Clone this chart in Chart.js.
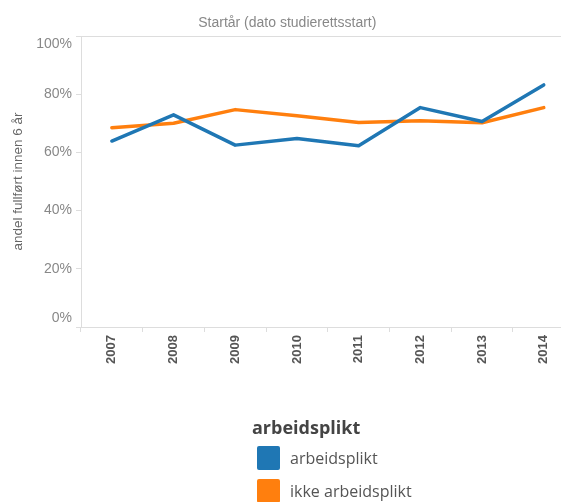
<!DOCTYPE html>
<html>
<head>
<meta charset="utf-8">
<script src="https://cdn.jsdelivr.net/npm/chart.js@4"></script>
<style>
  html, body { margin: 0; padding: 0; background: #fff; overflow: hidden; }
  #wrap { position: relative; width: 561px; height: 502px; overflow: hidden; }
  #myChart { position: absolute; left: 0; top: 0; }
  #legend { position: absolute; left: 0; top: 0; font-family: "Open Sans", sans-serif; }
  .lg-title { position: absolute; left: 252px; top: 415px; font-size: 18px; font-weight: bold; color: #444; white-space: nowrap; }
  .lg-row { position: absolute; left: 257px; height: 24px; white-space: nowrap; }
  .lg-box { position: absolute; left: 0; top: 0; width: 23px; height: 24px; border-radius: 2px; }
  .lg-text { position: absolute; left: 33px; top: 0px; line-height: 24px; font-size: 16px; color: #555; }
</style>
</head>
<body>
<div id="wrap">
  <canvas id="myChart" width="602" height="502"></canvas>
  <div id="legend"></div>
</div>
<script>
const years = ["2007", "2008", "2009", "2010", "2011", "2012", "2013", "2014"];
const yTicks = [0, 0.2, 0.4, 0.6, 0.8, 1];

// andel fullført innen 6 år
const arbeidsplikt = [0.639, 0.729, 0.625, 0.648, 0.623, 0.754, 0.706, 0.832];
const ikkeArbeidsplikt = [0.685, 0.700, 0.747, 0.726, 0.703, 0.709, 0.702, 0.754];

const seriesNames = ["arbeidsplikt", "ikke arbeidsplikt"];
const seriesColors = ["#1f77b4", "#ff7f0e"];

const data = {
  labels: years,
  datasets: [
    {
      label: seriesNames[0],
      data: arbeidsplikt,
      borderColor: seriesColors[0],
      backgroundColor: seriesColors[0],
    },
    {
      label: seriesNames[1],
      data: ikkeArbeidsplikt,
      borderColor: seriesColors[1],
      backgroundColor: seriesColors[1],
    },
  ],
};

const axisGray = "#dddddd";

const config = {
  type: "line",
  data: data,
  options: {
    responsive: false,
    animation: false,
    devicePixelRatio: 1,
    layout: { padding: { left: 0, right: 27.4, top: 0, bottom: 0 } },
    elements: {
      line: { borderWidth: 3.5, tension: 0, borderCapStyle: "round", borderJoinStyle: "round" },
      point: { radius: 0, hoverRadius: 0 },
    },
    plugins: {
      legend: { display: false },
      tooltip: { enabled: false },
      title: {
        display: true,
        text: "Startår (dato studierettsstart)",
        color: "#888",
        font: { family: "Liberation Sans", size: 14, weight: "normal" },
        padding: { top: 14.6, bottom: 4.6 },
      },
    },
    scales: {
      x: {
        type: "category",
        offset: true,
        afterFit: (s) => { s.height = 175; },
        grid: {
          offset: true,
          drawOnChartArea: false,
          tickLength: 5,
          tickColor: axisGray,
        },
        border: { display: true, color: axisGray },
        ticks: {
          autoSkip: false,
          minRotation: 90,
          maxRotation: 90,
          padding: 3,
          color: "#555",
          font: { family: "Liberation Sans", size: 13, weight: "bold" },
        },
      },
      y: {
        min: 0,
        max: 1,
        afterFit: (s) => { s.width = 81; },
        afterBuildTicks: (s) => { s.ticks = yTicks.map((v) => ({ value: v })); },
        grid: {
          color: (ctx) => (ctx.tick && (ctx.tick.value === 0 || ctx.tick.value === 1) ? axisGray : "rgba(0,0,0,0)"),
          tickColor: axisGray,
          tickLength: 5,
        },
        border: { display: true, color: axisGray },
        title: {
          display: true,
          text: "andel fullført innen 6 år",
          color: "#666",
          font: { family: "Liberation Sans", size: 13.5 },
          padding: { top: 10.5, bottom: 0 },
        },
        ticks: {
          padding: 4,
          color: "#888",
          font: { family: "Liberation Sans", size: 14 },
          // flush first/last label inside the axis
          callback: (v) => {
            const t = Math.round(v * 100) + "%";
            if (v === 1) return ["", t];
            if (v === 0) return [t, ""];
            return t;
          },
        },
      },
    },
  },
};

const myChart = new Chart(document.getElementById("myChart"), config);

// legend
const legend = document.getElementById("legend");
let html = '<div class="lg-title">arbeidsplikt</div>';
myChart.data.datasets.forEach((ds, i) => {
  html += '<div class="lg-row" style="top:' + (446 + 33 * i) + 'px">' +
    '<div class="lg-box" style="background:' + ds.backgroundColor + '"></div>' +
    '<div class="lg-text">' + ds.label + "</div></div>";
});
legend.innerHTML = html;
</script>
</body>
</html>
